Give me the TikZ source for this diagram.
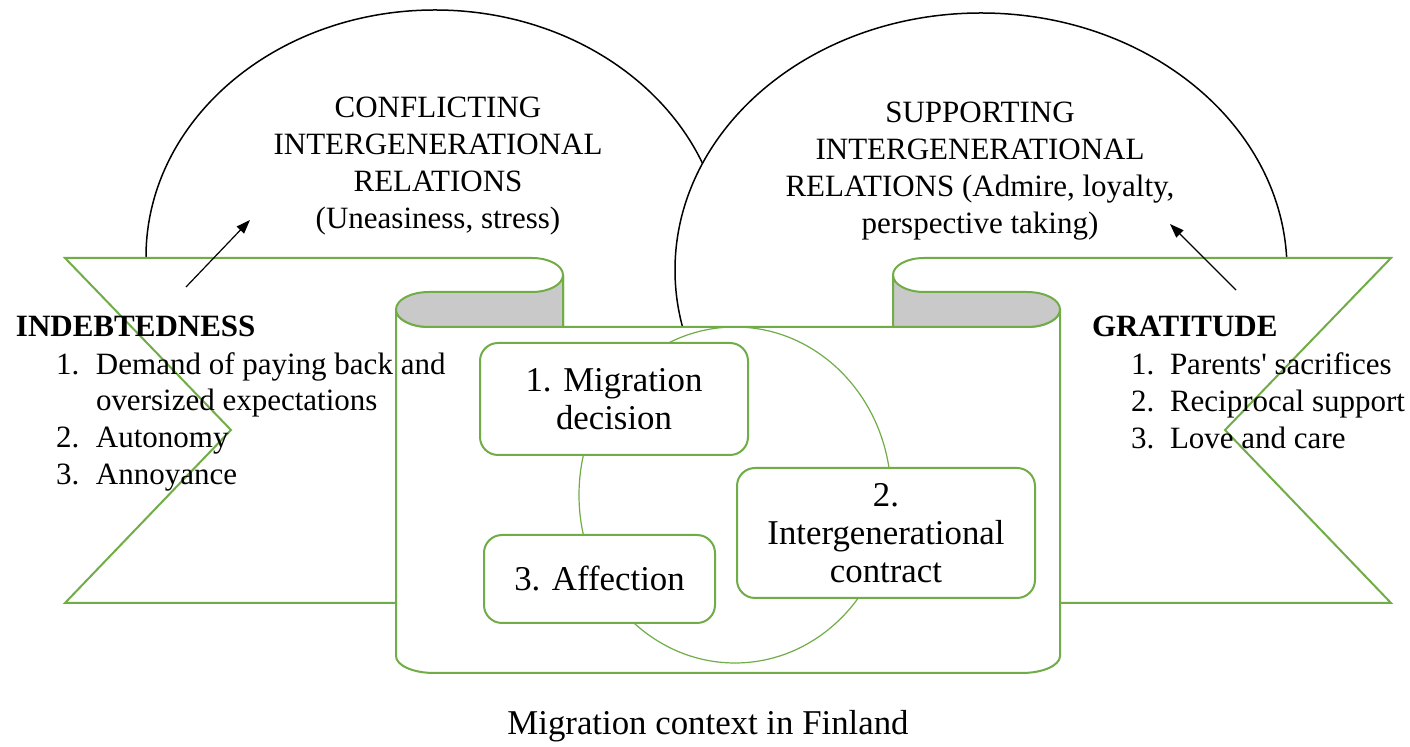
\documentclass[tikz,border=0pt]{standalone}
\usepackage{fontspec}
\setmainfont{Liberation Serif}
\usepackage{tikz}
\usetikzlibrary{arrows.meta}
\definecolor{bandgreen}{RGB}{112,173,71}
\definecolor{foldgray}{RGB}{201,201,201}
\newcommand{\schrift}{\fontsize{15.5}{18.5}\selectfont}
\newcommand{\grossschrift}{\fontsize{17.4}{19}\selectfont}

\begin{document}
\begin{tikzpicture}[x=0.5pt, y=-0.5pt, line width=1pt,
    band/.style={draw=bandgreen, fill=white},
    fold/.style={draw=bandgreen, fill=foldgray},
    casebox/.style={draw=bandgreen, fill=white, rounded corners=9pt, align=center, inner sep=0pt, font=\grossschrift},
    ovaltxt/.style={align=center, inner sep=0pt, font=\schrift},
    txt/.style={anchor=base west, inner sep=0pt, font=\schrift},
    pfeil/.style={-{Triangle[length=7pt, width=5pt]}, line width=0.6pt}]
    \useasboundingbox (0,0) rectangle (1410,747);

    % Ellipsen.
    \begin{scope}
        \clip (0,0) rectangle (1410,327);
        \draw[line width=0.75pt] (435,257) ellipse [x radius=289, y radius=247];
        \draw[line width=0.75pt, fill=white] (981,270) ellipse [x radius=306, y radius=257];
    \end{scope}

    % Baender.
    \draw[band] (65,258) -- (532,258) arc[start angle=-90, end angle=0, x radius=31, y radius=17]
        -- (563,603) -- (65,603) -- (231,430) -- cycle;
    \draw[band] (1391,258) -- (924,258) arc[start angle=-90, end angle=-180, x radius=31, y radius=17]
        -- (893,603) -- (1391,603) -- (1225,430) -- cycle;

    % Mittelteil.
    \draw[band] (396,309.5) arc[start angle=180, end angle=90, x radius=33, y radius=17.5]
        -- (1027,327) arc[start angle=90, end angle=0, x radius=33, y radius=17.5]
        -- (1060,656) arc[start angle=0, end angle=90, x radius=38, y radius=17]
        -- (434,673) arc[start angle=90, end angle=180, x radius=38, y radius=17] -- cycle;

    % Umschlag.
    \draw[fold] (563,275) arc[start angle=0, end angle=90, x radius=31, y radius=17]
        -- (429,292) arc[start angle=-90, end angle=-270, x radius=33, y radius=17.5]
        -- (563,327) -- cycle;
    \draw[fold] (893,275) arc[start angle=180, end angle=90, x radius=31, y radius=17]
        -- (1027,292) arc[start angle=-90, end angle=90, x radius=33, y radius=17.5]
        -- (893,327) -- cycle;

    % Kreis und Kaesten.
    \draw[bandgreen, line width=0.6pt] (735,495) ellipse [x radius=156, y radius=168];
    \node[casebox, minimum width=134pt, minimum height=56pt] (decision) at (614,399) {1. Migration\\decision};
    \node[casebox, minimum width=149pt, minimum height=65pt] (contract) at (886,533) {2.\\Intergenerational\\contract};
    \node[casebox, minimum width=115.5pt, minimum height=44pt] (affection) at (599.5,579) {3. Affection};

    % Beschriftung.
    \node[ovaltxt] (conflicting) at (438,166) {CONFLICTING\\INTERGENERATIONAL\\RELATIONS\\(Uneasiness, stress)};
    \node[ovaltxt] (supporting) at (980,171) {SUPPORTING\\INTERGENERATIONAL\\RELATIONS (Admire, loyalty,\\perspective taking)};

    \node[txt, font=\schrift\bfseries] (indebtedness) at (15,337) {INDEBTEDNESS};
    \foreach \y/\nr/\txt [count=\k] in {375/1./Demand of paying back and, 411//oversized expectations, 448/2./Autonomy, 485/3./Annoyance}
    {
        \node[txt] (inditem\k) at (55,\y) {\makebox[20pt][l]{\nr}\txt};
    }

    \node[txt, font=\schrift\bfseries] (gratitude) at (1091,337) {GRATITUDE};
    \foreach \y/\nr/\txt [count=\k] in {375/1./Parents\textquotesingle{} sacrifices, 412/2./Reciprocal support, 449/3./Love and care}
    {
        \node[txt] (gratitem\k) at (1130,\y) {\makebox[19.5pt][l]{\nr}\txt};
    }

    \node[txt, anchor=base, font=\grossschrift] (context) at (708,735) {Migration context in Finland};

    % Pfeile.
    \coordinate (indfrom) at (186,287);
    \coordinate (indto) at (250,220);
    \coordinate (gratfrom) at (1236,290);
    \coordinate (gratto) at (1170,224);
    \draw[pfeil] (indfrom) -- (indto);
    \draw[pfeil] (gratfrom) -- (gratto);
\end{tikzpicture}
\end{document}
